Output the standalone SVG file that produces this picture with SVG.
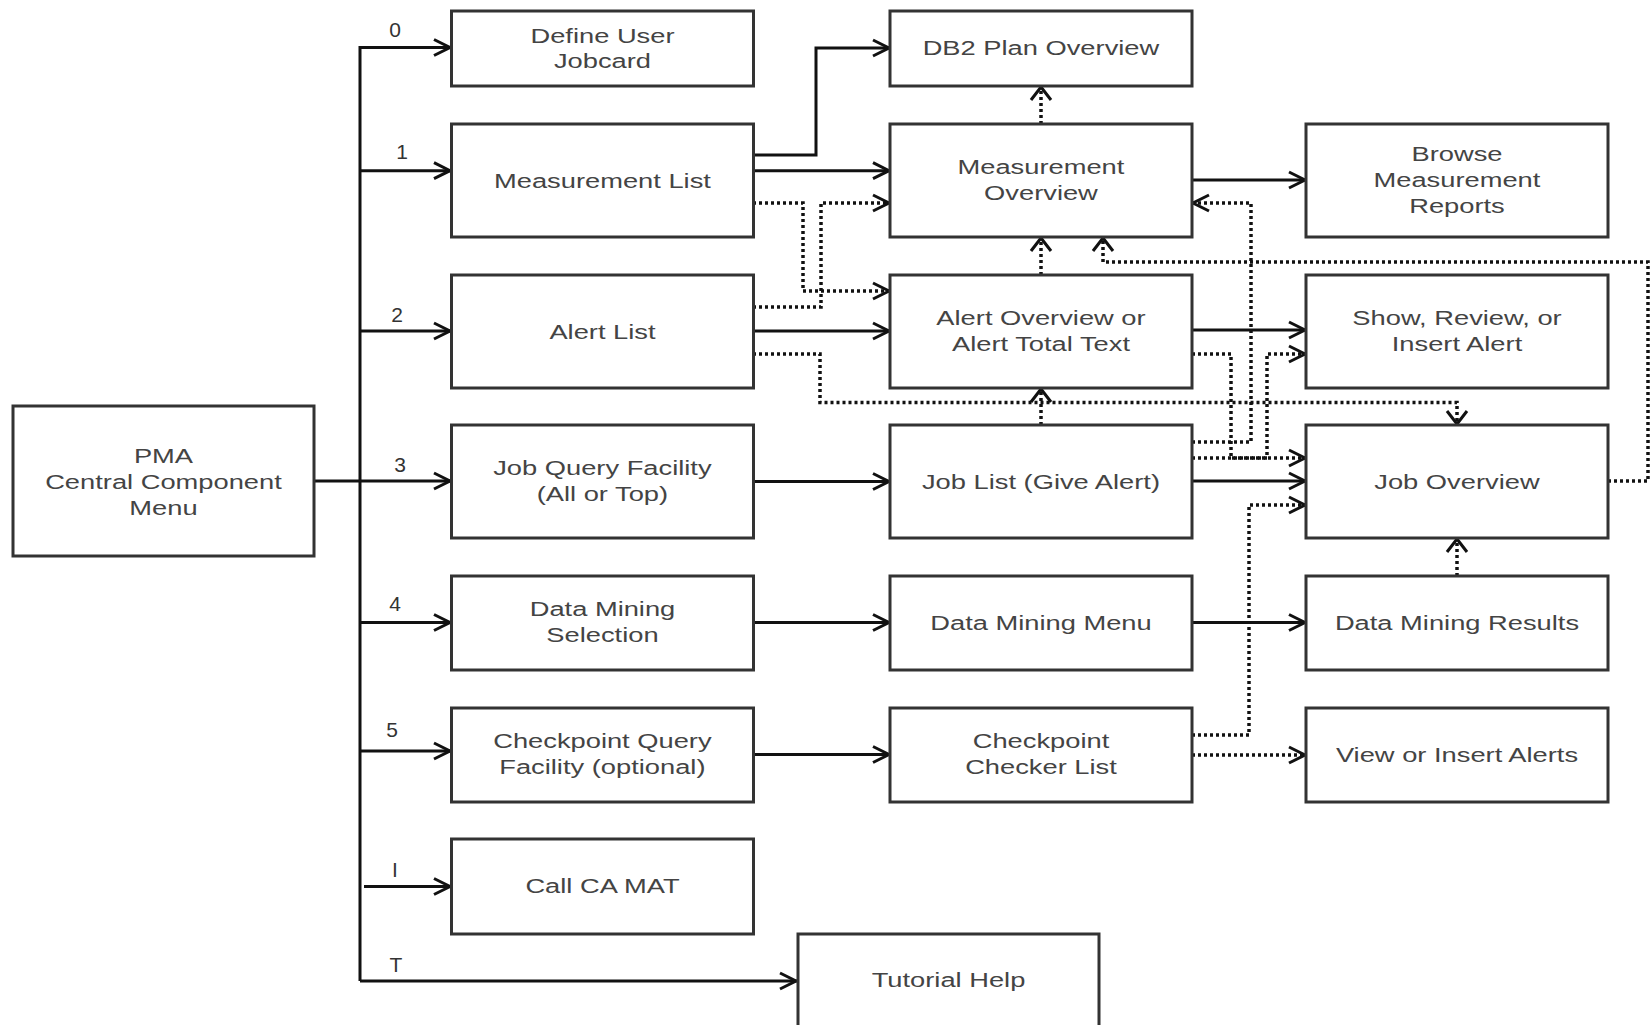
<svg xmlns="http://www.w3.org/2000/svg" width="1652" height="1025" viewBox="0 0 1652 1025">
<style>
.box{fill:#fff;stroke:#333;stroke-width:3}
.t{font-family:"Liberation Sans",Arial,sans-serif;font-size:21px;fill:#444;text-anchor:middle;transform-box:fill-box;transform-origin:center;transform:scaleX(1.3)}
.lbl{font-family:"Liberation Sans",Arial,sans-serif;font-size:21px;fill:#333;text-anchor:middle}
.c{fill:none;stroke:#111;stroke-width:3}
.d{stroke-dasharray:3 3;stroke-width:3.5}
.h{marker-end:url(#ah)}
.v{marker-end:url(#av)}
</style>
<defs>
<marker id="ah" markerUnits="userSpaceOnUse" viewBox="-22 -12 26 24" refX="0" refY="0" markerWidth="26" markerHeight="24" orient="auto">
<path d="M-17,-8 L-1,0 L-17,8" fill="none" stroke="#111" stroke-width="3" stroke-dasharray="none"/>
</marker>
<marker id="av" markerUnits="userSpaceOnUse" viewBox="-22 -14 26 28" refX="0" refY="0" markerWidth="26" markerHeight="28" orient="auto">
<path d="M-14,-10 L-1,0 L-14,10" fill="none" stroke="#111" stroke-width="3" stroke-dasharray="none"/>
</marker>
</defs>
<rect width="1652" height="1025" fill="#fff"/>

<g id="connectors">
<path class="c h" d="M360,981 V47.5 H451"/>
<path class="c h" d="M360,981 H797"/>
<path class="c h" d="M360,170.7 H451"/>
<path class="c h" d="M360,331 H451"/>
<path class="c h" d="M314,481 H451"/>
<path class="c h" d="M360,622.5 H451"/>
<path class="c h" d="M360,751 H451"/>
<path class="c h" d="M364,886.5 H451"/>
<path class="c h" d="M753,155 H816 V48 H890"/>
<path class="c h" d="M753,170.7 H890"/>
<path class="c h" d="M753,331 H890"/>
<path class="c h" d="M753,481.5 H890"/>
<path class="c h" d="M753,622.5 H890"/>
<path class="c h" d="M753,754.5 H890"/>
<path class="c h" d="M1192,180 H1306"/>
<path class="c h" d="M1192,330 H1306"/>
<path class="c h" d="M1192,481 H1306"/>
<path class="c h" d="M1192,622.5 H1306"/>
<path class="c d h" d="M753,203 H803 V291 H890"/>
<path class="c d h" d="M753,307 H821 V203 H890"/>
<path class="c d v" d="M753,354 H820 V402.5 H1457 V425"/>
<path class="c d v" d="M1041,425 V388"/>
<path class="c d v" d="M1041,275 V237"/>
<path class="c d v" d="M1041,124 V86"/>
<path class="c d v" d="M1608,481 H1648 V262 H1103 V237"/>
<path class="c d h" d="M1192,442 H1251 V203 H1192"/>
<path class="c d h" d="M1192,354 H1231 V458 H1306"/>
<path class="c d h" d="M1192,458 H1267 V354 H1306"/>
<path class="c d h" d="M1192,735 H1249 V505 H1306"/>
<path class="c d h" d="M1192,755 H1306"/>
<path class="c d v" d="M1457,576 V538"/>
<text class="lbl" x="395" y="37">0</text>
<text class="lbl" x="402" y="159">1</text>
<text class="lbl" x="397" y="322">2</text>
<text class="lbl" x="400" y="472">3</text>
<text class="lbl" x="395" y="611">4</text>
<text class="lbl" x="392" y="737">5</text>
<text class="lbl" x="395" y="877">I</text>
<text class="lbl" x="396" y="972">T</text>
</g>

<g id="pma"><rect class="box" x="13" y="406" width="301" height="150"/><text class="t"><tspan x="163.5" y="463">PMA</tspan><tspan x="163.5" y="489">Central Component</tspan><tspan x="163.5" y="515">Menu</tspan></text></g>

<g id="define-user-jobcard"><rect class="box" x="451.5" y="11" width="302" height="75"/><text class="t"><tspan x="602.5" y="43">Define User</tspan><tspan x="602.5" y="68">Jobcard</tspan></text></g>
<g id="measurement-list"><rect class="box" x="451.5" y="124" width="302" height="113"/><text class="t" x="602.5" y="188">Measurement List</text></g>
<g id="alert-list"><rect class="box" x="451.5" y="275" width="302" height="113"/><text class="t" x="602.5" y="339">Alert List</text></g>
<g id="job-query-facility"><rect class="box" x="451.5" y="425" width="302" height="113"/><text class="t"><tspan x="602.5" y="475">Job Query Facility</tspan><tspan x="602.5" y="501">(All or Top)</tspan></text></g>
<g id="data-mining-selection"><rect class="box" x="451.5" y="576" width="302" height="94"/><text class="t"><tspan x="602.5" y="616">Data Mining</tspan><tspan x="602.5" y="642">Selection</tspan></text></g>
<g id="checkpoint-query-facility"><rect class="box" x="451.5" y="708" width="302" height="94"/><text class="t"><tspan x="602.5" y="748">Checkpoint Query</tspan><tspan x="602.5" y="774">Facility (optional)</tspan></text></g>
<g id="call-ca-mat"><rect class="box" x="451.5" y="839" width="302" height="95"/><text class="t" x="602.5" y="893.5">Call CA MAT</text></g>

<g id="db2-plan-overview"><rect class="box" x="890" y="11" width="302" height="75"/><text class="t" x="1041" y="55.5">DB2 Plan Overview</text></g>
<g id="measurement-overview"><rect class="box" x="890" y="124" width="302" height="113"/><text class="t"><tspan x="1041" y="174">Measurement</tspan><tspan x="1041" y="200">Overview</tspan></text></g>
<g id="alert-overview"><rect class="box" x="890" y="275" width="302" height="113"/><text class="t"><tspan x="1041" y="325">Alert Overview or</tspan><tspan x="1041" y="351">Alert Total Text</tspan></text></g>
<g id="job-list"><rect class="box" x="890" y="425" width="302" height="113"/><text class="t" x="1041" y="489">Job List (Give Alert)</text></g>
<g id="data-mining-menu"><rect class="box" x="890" y="576" width="302" height="94"/><text class="t" x="1041" y="630">Data Mining Menu</text></g>
<g id="checkpoint-checker-list"><rect class="box" x="890" y="708" width="302" height="94"/><text class="t"><tspan x="1041" y="748">Checkpoint</tspan><tspan x="1041" y="774">Checker List</tspan></text></g>
<g id="tutorial-help"><rect class="box" x="798" y="934" width="301" height="95"/><text class="t" x="948.5" y="987">Tutorial Help</text></g>

<g id="browse-measurement-reports"><rect class="box" x="1306" y="124" width="302" height="113"/><text class="t"><tspan x="1457" y="161">Browse</tspan><tspan x="1457" y="187">Measurement</tspan><tspan x="1457" y="213">Reports</tspan></text></g>
<g id="show-review-insert-alert"><rect class="box" x="1306" y="275" width="302" height="113"/><text class="t"><tspan x="1457" y="325">Show, Review, or</tspan><tspan x="1457" y="351">Insert Alert</tspan></text></g>
<g id="job-overview"><rect class="box" x="1306" y="425" width="302" height="113"/><text class="t" x="1457" y="489">Job Overview</text></g>
<g id="data-mining-results"><rect class="box" x="1306" y="576" width="302" height="94"/><text class="t" x="1457" y="630">Data Mining Results</text></g>
<g id="view-insert-alerts"><rect class="box" x="1306" y="708" width="302" height="94"/><text class="t" x="1457" y="762">View or Insert Alerts</text></g>
</svg>
